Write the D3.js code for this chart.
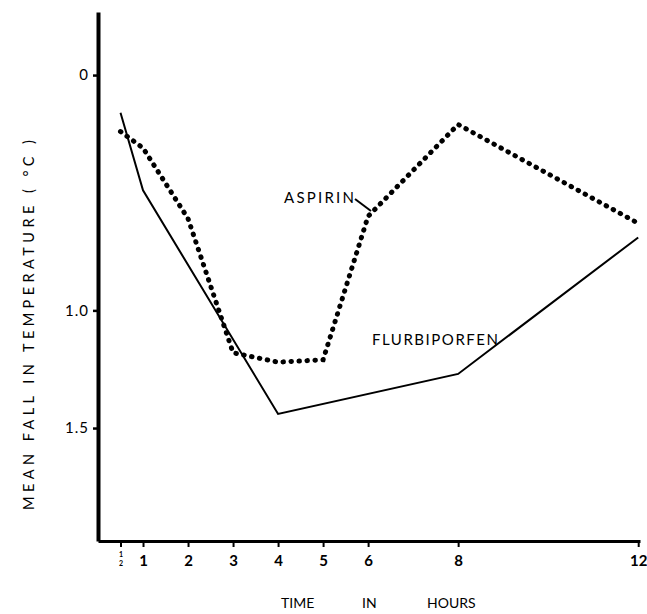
<!DOCTYPE html>
<html><head><meta charset="utf-8">
<script src="https://cdn.jsdelivr.net/npm/d3@7"></script>
<style>body{margin:0;background:#fff} svg{display:block}</style>
</head><body><svg id="c" width="647" height="614"></svg>
<script>
// ---- data ----
const aspirinTimes = [0.5, 1, 2, 3, 4, 5, 6, 8, 12];
const aspirinValues = [0.24, 0.31, 0.61, 1.18, 1.22, 1.21, 0.60, 0.21, 0.63];
const flurbiTimes = [0.5, 1, 4, 8, 12];
const flurbiValues = [0.16, 0.49, 1.44, 1.27, 0.69];
const xTickValues = [0.5, 1, 2, 3, 4, 5, 6, 8, 12];
const xTickLabels = ["½", "1", "2", "3", "4", "5", "6", "8", "12"];
const yTickValues = [0, 1.0, 1.5];
const yTickLabels = ["0", "1.0", "1.5"];

const font = "Lato, 'Open Sans', sans-serif";
const svg = d3.select("#c");

const x = d3.scaleLinear().domain([0, 12.04]).range([98, 640]);
const y = d3.scaleLinear().domain([-0.268, 1.98]).range([12, 541]);

// y axis
const yAxis = d3.axisLeft(y).tickValues(yTickValues).tickSize(5).tickSizeOuter(0)
  .tickFormat((d, i) => yTickLabels[i]);
const gy = svg.append("g").attr("transform", "translate(98,0)").call(yAxis);
gy.select(".domain").attr("stroke", "#000").attr("stroke-width", 4);
gy.selectAll(".tick line").attr("stroke", "#000").attr("stroke-width", 2.5);
gy.selectAll(".tick text").attr("font-family", font).attr("font-size", 15)
  .attr("x", -9).attr("fill", "#000").attr("letter-spacing", "1px");

// x axis
const xAxis = d3.axisBottom(x).tickValues(xTickValues).tickSize(6).tickSizeOuter(0)
  .tickFormat(() => "");
const gx = svg.append("g").attr("transform", "translate(0,541)").call(xAxis);
gx.select(".domain").attr("stroke", "#000").attr("stroke-width", 3);
gx.selectAll(".tick line").attr("stroke", "#000").attr("stroke-width", 2);
gx.selectAll(".tick text").remove();
gx.selectAll(".tick").each(function (d, i) {
  const t = d3.select(this);
  const lab = xTickLabels[i];
  if (lab === "½") {
    t.append("text").attr("text-anchor", "middle").attr("fill", "#000")
      .attr("font-family", font).attr("font-weight", "bold").attr("font-size", 7)
      .attr("y", 16).text("1");
    t.append("text").attr("text-anchor", "middle").attr("fill", "#000")
      .attr("font-family", font).attr("font-weight", "bold").attr("font-size", 7)
      .attr("y", 25).text("2");
  } else {
    t.append("text").attr("text-anchor", "middle").attr("fill", "#000")
      .attr("font-family", font).attr("font-weight", "bold")
      .attr("font-size", 15).attr("y", 25).text(lab);
  }
});

// axis titles
svg.append("text").attr("font-family", font).attr("font-size", 14.5).attr("fill", "#000")
  .attr("transform", "translate(34,325) rotate(-90)").attr("text-anchor", "middle")
  .attr("textLength", 370).attr("lengthAdjust", "spacing")
  .text("MEAN FALL IN TEMPERATURE ( °C )");
const xt = svg.append("text").attr("font-family", font).attr("font-size", 14).attr("y", 608).attr("fill", "#000");
xt.append("tspan").attr("x", 281).text("TIME");
xt.append("tspan").attr("x", 362).text("IN");
xt.append("tspan").attr("x", 427).text("HOURS");

// lines
const flurbi = flurbiTimes.map((t, i) => [t, flurbiValues[i]]);
const asp = aspirinTimes.map((t, i) => [t, aspirinValues[i]]);
const line = d3.line().x(d => x(d[0])).y(d => y(d[1]));

svg.append("path").attr("d", line(flurbi)).attr("fill", "none")
  .attr("stroke", "#000").attr("stroke-width", 2);
svg.append("path").attr("d", line(asp)).attr("fill", "none")
  .attr("stroke", "#000").attr("stroke-width", 5).attr("stroke-linecap", "round")
  .attr("stroke-dasharray", "0.5 7.5");

// labels
svg.append("text").attr("font-family", font).attr("font-size", 15).attr("fill", "#000")
  .attr("x", 284).attr("y", 203).attr("textLength", 70).text("ASPIRIN");
svg.append("line").attr("x1", 355).attr("y1", 199).attr("x2", 371).attr("y2", 211)
  .attr("stroke", "#000").attr("stroke-width", 2);
svg.append("text").attr("font-family", font).attr("font-size", 15).attr("fill", "#000")
  .attr("x", 372).attr("y", 345).attr("textLength", 126).text("FLURBIPORFEN");
</script></body></html>
